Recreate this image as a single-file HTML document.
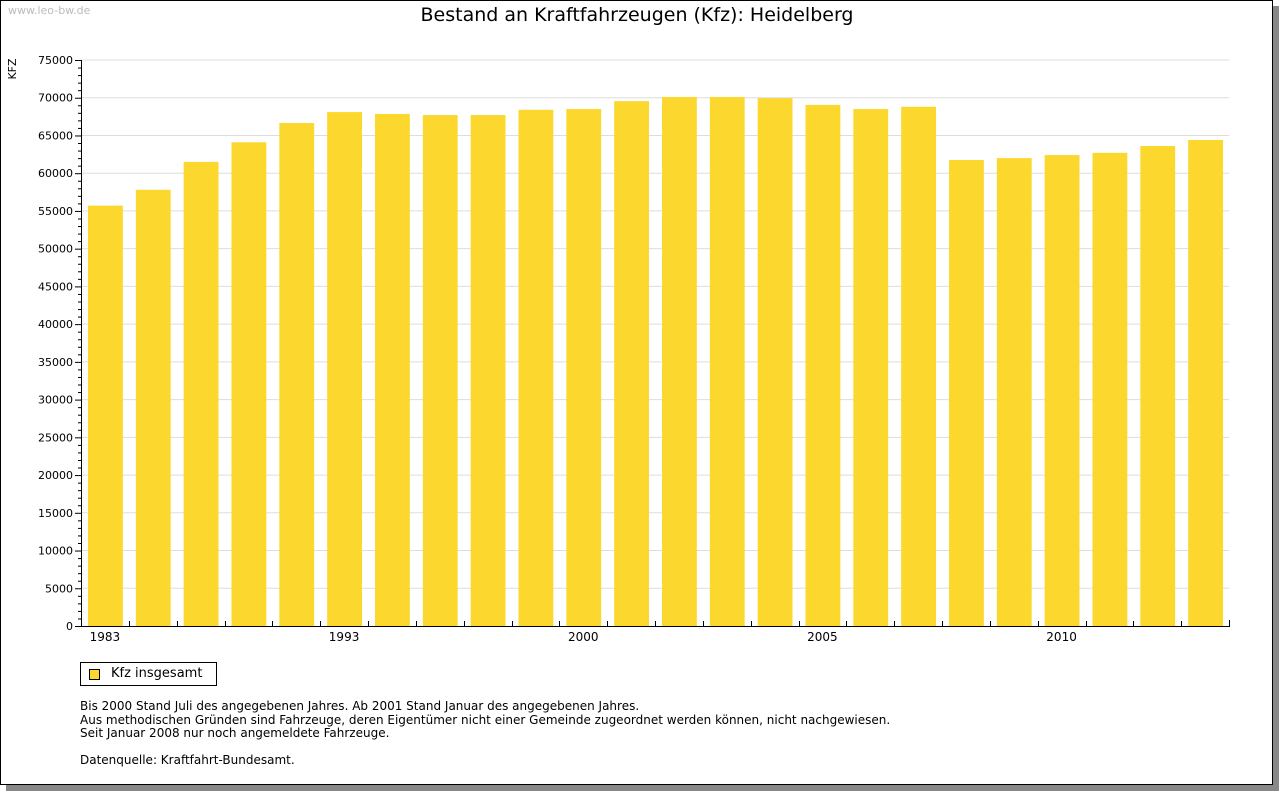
<!DOCTYPE html>
<html><head><meta charset="utf-8"><style>
body{margin:0;background:#fff;font-family:"DejaVu Sans","Liberation Sans",sans-serif;}
#frame{position:absolute;left:0;top:0;width:1273px;height:785px;border:1px solid #000;box-sizing:border-box;background:#fff;box-shadow:6px 6px 0 #888;}
.t{position:absolute;white-space:nowrap;}
</style></head><body>
<div id="frame"></div>
<div class="t" style="left:8px;top:4px;font-size:11px;color:#bbb">www.leo-bw.de</div>
<div class="t" style="left:0;width:1274px;text-align:center;top:4px;font-size:19px;color:#000">Bestand an Kraftfahrzeugen (Kfz): Heidelberg</div>
<svg id="chart" width="1280" height="700" style="position:absolute;left:0;top:0"></svg>
<div class="t" style="left:80px;top:662px;width:135px;height:22px;border:1px solid #000;font-size:13px;">
<span style="position:absolute;left:8px;top:6px;width:9px;height:9px;background:#fcd72d;border:1px solid #000"></span>
<span style="position:absolute;left:30px;top:3px">Kfz insgesamt</span></div>
<div class="t" style="left:80px;top:700px;font-size:12px;line-height:13.5px;">Bis 2000 Stand Juli des angegebenen Jahres. Ab 2001 Stand Januar des angegebenen Jahres.<br>Aus methodischen Gründen sind Fahrzeuge, deren Eigentümer nicht einer Gemeinde zugeordnet werden können, nicht nachgewiesen.<br>Seit Januar 2008 nur noch angemeldete Fahrzeuge.<br><br>Datenquelle: Kraftfahrt-Bundesamt.</div>
<script>
const categories=["1983","","","","","1993","","","","","2000","","","","","2005","","","","","2010","","",""];
const values=[55700,57800,61500,64100,66650,68100,67850,67700,67700,68400,68500,69550,70100,70100,69950,69050,68500,68800,61750,62000,62400,62700,63600,64400];
const yTicks=[0,5000,10000,15000,20000,25000,30000,35000,40000,45000,50000,55000,60000,65000,70000,75000];
const NS="http://www.w3.org/2000/svg";
const svg=document.getElementById('chart');
const X0=81,X1=1229,Y0=626,Y1=60,YMAX=75000;
const slot=(X1-X0)/values.length;
const y=v=>Y0-(v/YMAX)*(Y0-Y1);
const x=i=>X0+i*slot;
function mk(t,a){const e=document.createElementNS(NS,t);for(const k in a)e.setAttribute(k,a[k]);svg.appendChild(e);return e;}
yTicks.forEach(v=>{
 if(v>0){const g=mk('line',{x1:X0,x2:X1,y1:y(v),y2:y(v),stroke:'#ddd','stroke-width':1});
 
 }
 const t=mk('text',{x:73,y:y(v)+4,'text-anchor':'end','font-size':11,'font-family':'DejaVu Sans, sans-serif'});t.textContent=v;
 
 
});
for(let v=0;v<=YMAX;v+=1000){const l=mk('line',{x1:v%5000?X0-3:X0-6,x2:X0,y1:y(v)+0.5,y2:y(v)+0.5,stroke:'#000'});
 
 }
values.forEach((v,i)=>{
 const r=mk('rect',{x:x(i)+7,y:y(v),width:slot-13,height:Y0-y(v),fill:'#fcd72d'});
 
 
 if(i>0){const tk=mk('line',{x1:Math.round(x(i))+0.5,x2:Math.round(x(i))+0.5,y1:Y0,y2:Y0-5,stroke:'#000'});
 
 }
 if(categories[i]){const t=mk('text',{x:x(i)+slot/2,y:641,'text-anchor':'middle','font-size':12,'font-family':'DejaVu Sans, sans-serif'});t.textContent=categories[i];
 
 }
});
const ax=mk('path',{d:`M${X0+0.5} ${Y1} V${Y0+0.5} H${X1+0.5} V${Y0-6}`,stroke:'#000',fill:'none'});


const yt=mk('text',{x:0,y:0,transform:'translate(16,69) rotate(-90)','text-anchor':'middle','font-size':11,'font-family':'DejaVu Sans, sans-serif'});yt.textContent='KFZ';


</script>
</body></html>
